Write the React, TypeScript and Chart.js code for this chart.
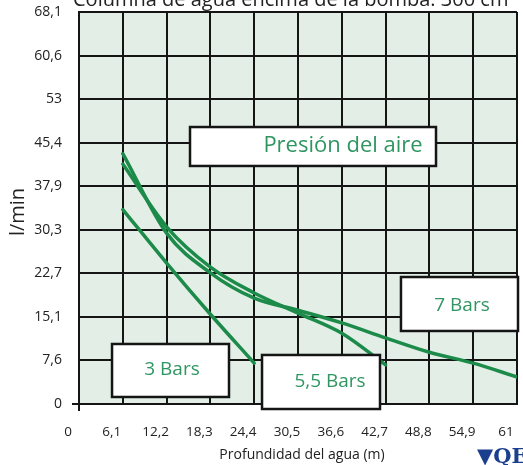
import React, { useEffect, useRef } from "react";
import { Chart, registerables } from "chart.js";

Chart.register(...registerables);

// ---- data ----
const xTickValues = [0, 6.1, 12.2, 18.3, 24.4, 30.5, 36.6, 42.7, 48.8, 54.9, 61];
const xTickLabels = ["0", "6,1", "12,2", "18,3", "24,4", "30,5", "36,6", "42,7", "48,8", "54,9", "61"];
const yTickValues = [0, 7.57, 15.14, 22.71, 30.28, 37.85, 45.42, 52.99, 60.56, 68.13];
const yTickLabels = ["0", "7,6", "15,1", "22,7", "30,3", "37,9", "45,4", "53", "60,6", "68,1"];

const depth3 = [6.1, 12.2, 18.3, 24.4];
const flow3 = [33.8, 24.5, 15.6, 7.1];
const depth55 = [6.1, 12.2, 18.3, 24.4, 30.5, 36.6, 42.7];
const flow55 = [41.7, 30.8, 23.8, 19.3, 15.8, 12.3, 6.8];
const depth7 = [6.1, 12.2, 18.3, 24.4, 30.5, 36.6, 42.7, 48.8, 54.9, 61];
const flow7 = [43.5, 29.7, 22.8, 18.4, 16.3, 14.1, 11.5, 9.0, 7.1, 4.7];

const titleText = "Columna de agua encima de la bomba: 300 cm";
const xTitle = "Profundidad del agua (m)";
const yTitle = "l/min";

// label boxes (in data units)
const boxLabels = ["Presión del aire", "7 Bars", "3 Bars", "5,5 Bars"];
const boxX0 = [15.46, 44.84, 4.6, 25.49];
const boxX1 = [49.72, 61.14, 20.89, 41.92];
const boxY0 = [48.14, 22.07, 10.43, 8.52];
const boxY1 = [41.37, 12.69, 1.22, -0.87];
const boxTX = [36.77, 53.34, 12.95, 34.96];
const boxTY = [44.84, 17.03, 5.91, 3.82];
const boxFont = [22, 19, 19, 19];

const LINE = "#1c8b4a";
const TEXT_GREEN = "#2f9661";
const FONT = '"Open Sans", "Noto Sans", sans-serif';

const zip = (xs: number[], ys: number[]) => xs.map((x, i) => ({ x, y: ys[i] }));

const decoPlugin = {
  id: "deco",
  beforeDraw(chart: any) {
    const { ctx, chartArea: a } = chart;
    ctx.save();
    ctx.fillStyle = "#e3eee6";
    ctx.fillRect(a.left, a.top, a.right - a.left, a.bottom - a.top);
    ctx.restore();
  },
  afterDatasetsDraw(chart: any) {
    const { ctx, scales } = chart;
    const xs = scales.x;
    const ys = scales.y;
    ctx.save();
    boxLabels.forEach((t, i) => {
      const l = xs.getPixelForValue(boxX0[i]);
      const r = xs.getPixelForValue(boxX1[i]);
      const tp = ys.getPixelForValue(boxY0[i]);
      const b = ys.getPixelForValue(boxY1[i]);
      ctx.fillStyle = "#ffffff";
      ctx.fillRect(l, tp, r - l, b - tp);
      ctx.strokeStyle = "#151515";
      ctx.lineWidth = 2.5;
      ctx.strokeRect(l, tp, r - l, b - tp);
      ctx.fillStyle = TEXT_GREEN;
      ctx.font = `${boxFont[i]}px ${FONT}`;
      ctx.textAlign = "center";
      ctx.textBaseline = "middle";
      ctx.fillText(t, xs.getPixelForValue(boxTX[i]), ys.getPixelForValue(boxTY[i]));
    });
    ctx.restore();
  },
  afterDraw(chart: any) {
    const { ctx, chartArea: a, height } = chart;
    ctx.save();
    ctx.strokeStyle = "#151515";
    ctx.lineWidth = 2;
    ctx.beginPath();
    ctx.moveTo(a.left - 7, a.bottom);
    ctx.lineTo(a.left, a.bottom);
    ctx.moveTo(a.left, a.bottom);
    ctx.lineTo(a.left, a.bottom + 7);
    ctx.stroke();
    ctx.fillStyle = "#222";
    ctx.font = `20px ${FONT}`;
    ctx.textAlign = "left";
    ctx.textBaseline = "alphabetic";
    ctx.fillText(titleText, 73, 6);
    ctx.font = `14px ${FONT}`;
    ctx.textAlign = "center";
    ctx.textBaseline = "middle";
    ctx.fillText(xTitle, 302, 455);
    ctx.save();
    ctx.translate(18, 212);
    ctx.rotate(-Math.PI / 2);
    ctx.font = `20px ${FONT}`;
    ctx.fillText(yTitle, 0, 0);
    ctx.restore();
    ctx.fillStyle = "#1b3f8f";
    ctx.font = `bold 21px "DejaVu Serif", "Liberation Serif", serif`;
    ctx.textAlign = "left";
    ctx.textBaseline = "alphabetic";
    ctx.fillText("▼QE", 477, height - 2);
    ctx.restore();
  },
};

export default function App() {
  const ref = useRef<HTMLCanvasElement | null>(null);
  useEffect(() => {
    document.body.style.margin = "0";
    const ds = (data: any[]) => ({
      data,
      borderColor: LINE,
      borderWidth: 3.5,
      pointRadius: 0,
      cubicInterpolationMode: "monotone" as const,
      borderCapStyle: "round" as const,
      fill: false,
    });
    const chart = new Chart(ref.current as HTMLCanvasElement, {
      type: "line",
      data: {
        datasets: [ds(zip(depth3, flow3)), ds(zip(depth55, flow55)), ds(zip(depth7, flow7))],
      },
      options: {
        animation: false,
        responsive: false,
        layout: { padding: { top: 12, right: 6, left: 0, bottom: 0 } },
        plugins: { legend: { display: false }, tooltip: { enabled: false } },
        scales: {
          x: {
            type: "linear",
            min: 0,
            max: 61,
            afterBuildTicks: (s: any) => {
              s.ticks = xTickValues.map((v) => ({ value: v }));
            },
            afterFit: (s: any) => {
              s.height = 61;
              s.paddingLeft = 0;
              s.paddingRight = 0;
            },
            ticks: {
              callback: (_v: any, i: number) => xTickLabels[i],
              autoSkip: false,
              maxRotation: 0,
              padding: 20,
              labelOffset: -11,
              color: "#222",
              font: { size: 13.5, family: FONT },
            },
            grid: { color: "#151515", lineWidth: 2, drawTicks: false },
            border: { color: "#151515", width: 2 },
          },
          y: {
            type: "linear",
            min: 0,
            max: 68.13,
            afterBuildTicks: (s: any) => {
              s.ticks = yTickValues.map((v) => ({ value: v }));
            },
            afterFit: (s: any) => {
              s.width = 79;
              s.paddingTop = 0;
              s.paddingBottom = 0;
            },
            ticks: {
              callback: (_v: any, i: number) => yTickLabels[i],
              autoSkip: false,
              padding: 17,
              color: "#222",
              font: { size: 14, family: FONT },
            },
            grid: { color: "#151515", lineWidth: 2, drawTicks: false },
            border: { color: "#151515", width: 2 },
          },
        },
      },
      plugins: [decoPlugin],
    });
    return () => chart.destroy();
  }, []);
  return <canvas ref={ref} width={523} height={465} style={{ display: "block" }} />;
}
